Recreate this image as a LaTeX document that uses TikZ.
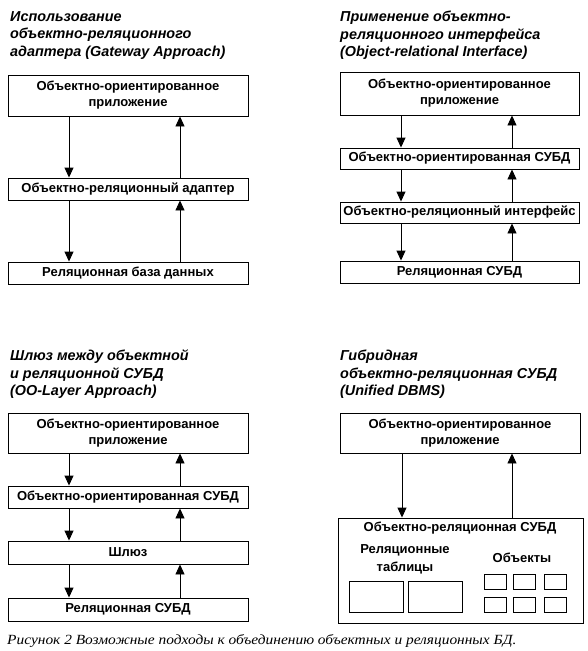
\documentclass[tikz,border=0pt]{standalone}
\usepackage{fontspec}
\setmainfont{Liberation Serif}
\newfontfamily\arialfont{Liberation Sans}
\newfontfamily\capfont[FakeStretch=1.1]{Liberation Serif}
\usetikzlibrary{arrows.meta}
\begin{document}
\begin{tikzpicture}[x=1pt,y=-1pt,
  box/.style={draw, line width=0.9pt, inner sep=0pt, align=center,
    font=\arialfont\bfseries\fontsize{13}{16}\selectfont},
  ttl/.style={anchor=north west, inner sep=0pt, align=left,
    font=\arialfont\bfseries\itshape\fontsize{14.4}{17.5}\selectfont},
  lbl/.style={inner sep=0pt, align=center,
    font=\arialfont\bfseries\fontsize{13}{18}\selectfont},
  arr/.style={line width=0.9pt, -{Triangle[length=10pt,width=9pt]}},
  tbl/.style={draw, line width=0.9pt, inner sep=0pt, minimum width=54pt, minimum height=31pt},
  obj/.style={draw, line width=0.9pt, inner sep=0pt, minimum width=22pt, minimum height=15pt}]
\useasboundingbox[fill=white] (0,0) rectangle (587,651);

% ---------- top left ----------
\node[ttl] (tlT) at (10,11) {Использование\\объектно-реляционного\\адаптера (Gateway Approach)};
\node[box, minimum width=240pt, minimum height=41pt] (tlA) at (128,95.5) {Объектно-ориентированное\\приложение};
\node[box, minimum width=240pt, minimum height=22pt] (tlB) at (128,189) {Объектно-реляционный адаптер};
\node[box, minimum width=240pt, minimum height=22pt] (tlC) at (128,273) {Реляционная база данных};
\coordinate (tlL) at (69,0);
\coordinate (tlR) at (180,0);
\draw[arr] (tlA.south -| tlL) -- (tlB.north -| tlL);
\draw[arr] (tlB.north -| tlR) -- (tlA.south -| tlR);
\draw[arr] (tlB.south -| tlL) -- (tlC.north -| tlL);
\draw[arr] (tlC.north -| tlR) -- (tlB.south -| tlR);

% ---------- top right ----------
\node[ttl] (trT) at (340,11) {Применение объектно-\\реляционного интерфейса\\(Object-relational Interface)};
\node[box, minimum width=239pt, minimum height=43pt] (trA) at (459.5,93.5) {Объектно-ориентированное\\приложение};
\node[box, minimum width=239pt, minimum height=21pt] (trB) at (459.5,158.5) {Объектно-ориентированная СУБД};
\node[box, minimum width=239pt, minimum height=21pt] (trC) at (459.5,212.5) {Объектно-реляционный интерфейс};
\node[box, minimum width=239pt, minimum height=22pt] (trD) at (459.5,272) {Реляционная СУБД};
\coordinate (trL) at (401,0);
\coordinate (trR) at (512,0);
\draw[arr] (trA.south -| trL) -- (trB.north -| trL);
\draw[arr] (trB.north -| trR) -- (trA.south -| trR);
\draw[arr] (trB.south -| trL) -- (trC.north -| trL);
\draw[arr] (trC.north -| trR) -- (trB.south -| trR);
\draw[arr] (trC.south -| trL) -- (trD.north -| trL);
\draw[arr] (trD.north -| trR) -- (trC.south -| trR);

% ---------- bottom left ----------
\node[ttl] (blT) at (10,350) {Шлюз между объектной\\и реляционной СУБД\\(OO-Layer Approach)};
\node[box, minimum width=240pt, minimum height=40pt] (blA) at (128,433) {Объектно-ориентированное\\приложение};
\node[box, minimum width=240pt, minimum height=22pt] (blB) at (128,497) {Объектно-ориентированная СУБД};
\node[box, minimum width=240pt, minimum height=23pt] (blC) at (128,552.5) {Шлюз};
\node[box, minimum width=240pt, minimum height=23pt] (blD) at (128,609.5) {Реляционная СУБД};
\coordinate (blL) at (69,0);
\coordinate (blR) at (180,0);
\draw[arr] (blA.south -| blL) -- (blB.north -| blL);
\draw[arr] (blB.north -| blR) -- (blA.south -| blR);
\draw[arr] (blB.south -| blL) -- (blC.north -| blL);
\draw[arr] (blC.north -| blR) -- (blB.south -| blR);
\draw[arr] (blC.south -| blL) -- (blD.north -| blL);
\draw[arr] (blD.north -| blR) -- (blC.south -| blR);

% ---------- bottom right ----------
\node[ttl] (brT) at (340,350) {Гибридная\\объектно-реляционная СУБД\\(Unified DBMS)};
\node[box, minimum width=240pt, minimum height=40pt] (brA) at (460,433) {Объектно-ориентированное\\приложение};
\node[draw, line width=0.9pt, inner sep=0pt, minimum width=245pt, minimum height=105pt] (brB) at (460.5,570.5) {};
\node[lbl] (brBt) at (460,528) {Объектно-реляционная СУБД};
\node[lbl] (brRt) at (405,559) {Реляционные\\таблицы};
\node[lbl] (brOt) at (522,558) {Объекты};
\node[tbl] (tb1) at (376,596.5) {};
\node[tbl] (tb2) at (435.5,596.5) {};
\node[obj] (o1) at (495,581.5) {};
\node[obj] (o2) at (524,581.5) {};
\node[obj] (o3) at (555,581.5) {};
\node[obj] (o4) at (495,604.5) {};
\node[obj] (o5) at (524,604.5) {};
\node[obj] (o6) at (555,604.5) {};
\coordinate (brL) at (402,0);
\coordinate (brR) at (512,0);
\draw[arr] (brA.south -| brL) -- (brB.north -| brL);
\draw[arr] (brB.north -| brR) -- (brA.south -| brR);

% ---------- caption ----------
\node[anchor=base west, inner sep=0pt, font=\capfont\itshape\fontsize{14}{16}\selectfont] (cap) at (7,644)
  {Рисунок 2 Возможные подходы к объединению объектных и реляционных БД.};
\end{tikzpicture}
\end{document}
